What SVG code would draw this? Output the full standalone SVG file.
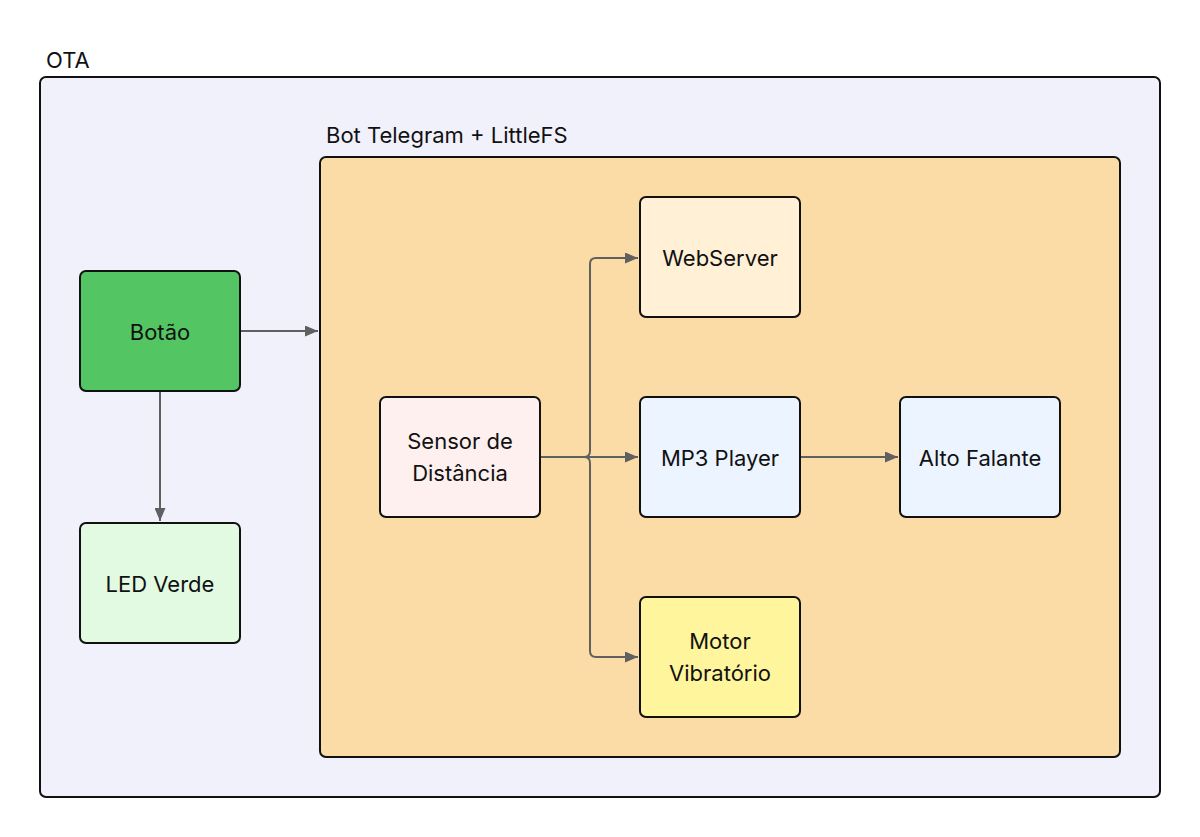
<svg xmlns="http://www.w3.org/2000/svg" width="1200" height="837" viewBox="0 0 1200 837">
<style>
text{font-family:Inter,"Liberation Sans",sans-serif;font-size:22px;fill:#111}
.c{text-anchor:middle}
.n{stroke:#111;stroke-width:2}
.e{fill:none;stroke:#606060;stroke-width:2}
</style>
<defs>
<marker id="a" viewBox="0 0 13 11" refX="13" refY="5.5" markerWidth="13" markerHeight="11" markerUnits="userSpaceOnUse" orient="auto">
<path d="M0,0L13,5.5L0,11z" fill="#606060"/>
</marker>
</defs>
<rect width="1200" height="837" fill="#fff"/>
<g id="ota">
<rect class="n" x="40" y="77" width="1120" height="720" rx="6" fill="#f1f1fc"/>
<text x="46" y="68">OTA</text>
</g>
<g id="bot">
<rect class="n" x="320" y="157" width="800" height="600" rx="6" fill="#fcdca6"/>
<text x="326" y="143">Bot Telegram + LittleFS</text>
</g>
<g id="connectors">
<path class="e" d="M240,331H318" marker-end="url(#a)"/>
<path class="e" d="M160,391V521" marker-end="url(#a)"/>
<path class="e" d="M540,457H584Q590,457 590,451V264Q590,258 596,258H638" marker-end="url(#a)"/>
<path class="e" d="M540,457H638" marker-end="url(#a)"/>
<path class="e" d="M584,457Q590,457 590,463V651Q590,657 596,657H638" marker-end="url(#a)"/>
<path class="e" d="M800,457H898" marker-end="url(#a)"/>
</g>
<g id="botao">
<rect class="n" x="80" y="271" width="160" height="120" rx="6" fill="#53c563"/>
<text class="c" x="160" y="340">Botão</text>
</g>
<g id="led">
<rect class="n" x="80" y="523" width="160" height="120" rx="6" fill="#e2f9e2"/>
<text class="c" x="160" y="592">LED Verde</text>
</g>
<g id="sensor">
<rect class="n" x="380" y="397" width="160" height="120" rx="6" fill="#fdf0ee"/>
<text class="c" x="460" y="449">Sensor de</text>
<text class="c" x="460" y="481">Distância</text>
</g>
<g id="webserver">
<rect class="n" x="640" y="197" width="160" height="120" rx="6" fill="#fff0d6"/>
<text class="c" x="720" y="266">WebServer</text>
</g>
<g id="mp3">
<rect class="n" x="640" y="397" width="160" height="120" rx="6" fill="#ecf4ff"/>
<text class="c" x="720" y="466">MP3 Player</text>
</g>
<g id="alto">
<rect class="n" x="900" y="397" width="160" height="120" rx="6" fill="#ecf4ff"/>
<text class="c" x="980" y="466">Alto Falante</text>
</g>
<g id="motor">
<rect class="n" x="640" y="597" width="160" height="120" rx="6" fill="#fff59c"/>
<text class="c" x="720" y="649">Motor</text>
<text class="c" x="720" y="681">Vibratório</text>
</g>
</svg>
